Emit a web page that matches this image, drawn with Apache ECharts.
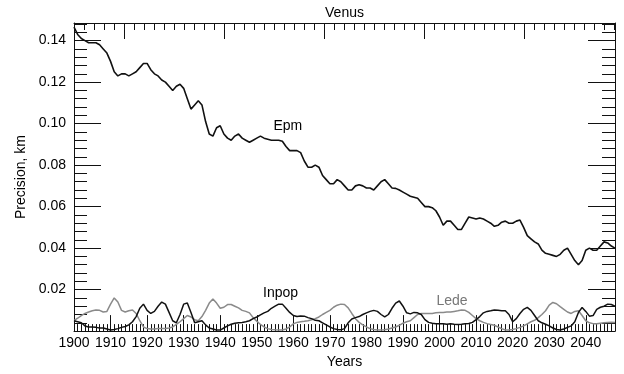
<!DOCTYPE html>
<html><head><meta charset="utf-8">
<script src="https://cdn.jsdelivr.net/npm/echarts@6/dist/echarts.min.js"></script>
<style>html,body{margin:0;padding:0;background:#fff}#c{width:624px;height:374px}</style>
</head><body><div id="c"></div>
<script>
const chartTitle = 'Venus';
const xName = 'Years';
const yName = 'Precision, km';
const seriesNames = ['Epm', 'Inpop', 'Lede'];
const startYear = 1900;
const endYear = 2048;

const epm = [
 0.1465,0.143,0.141,0.140,0.139,0.139,0.139,0.138,0.136,0.134,
 0.130,0.125,0.123,0.124,0.124,0.123,0.124,0.125,0.127,0.129,
 0.129,0.126,0.124,0.123,0.121,0.120,0.118,0.116,0.118,0.119,
 0.117,0.112,0.107,0.109,0.111,0.109,0.101,0.095,0.094,0.098,
 0.099,0.095,0.093,0.092,0.094,0.095,0.093,0.092,0.091,0.092,
 0.093,0.094,0.093,0.0925,0.092,0.092,0.092,0.0915,0.089,0.087,
 0.087,0.087,0.086,0.082,0.079,0.079,0.080,0.079,0.075,0.073,
 0.071,0.071,0.073,0.072,0.070,0.068,0.068,0.070,0.0705,0.070,
 0.069,0.069,0.068,0.070,0.072,0.073,0.071,0.069,0.0688,0.068,
 0.067,0.066,0.065,0.0645,0.064,0.062,0.060,0.060,0.0595,0.058,
 0.055,0.051,0.053,0.053,0.051,0.049,0.049,0.052,0.055,0.0545,
 0.054,0.0545,0.054,0.053,0.052,0.0505,0.051,0.0525,0.053,0.052,
 0.052,0.053,0.0535,0.050,0.046,0.0445,0.043,0.042,0.039,0.0375,
 0.037,0.0365,0.036,0.037,0.039,0.040,0.037,0.034,0.032,0.034,
 0.039,0.040,0.039,0.039,0.041,0.043,0.0425,0.041,0.040
];
const inpop = [
 0.005,0.0045,0.004,0.0025,0.002,0.002,0.0018,0.0015,0.0015,0.001,
 0.0005,0.0008,0.0012,0.0018,0.0022,0.003,0.0045,0.007,0.011,0.013,
 0.010,0.0085,0.0095,0.012,0.014,0.013,0.009,0.005,0.004,0.008,
 0.013,0.0135,0.009,0.004,0.0045,0.005,0.003,0.0015,0.001,0.0005,
 0.0005,0.0015,0.0025,0.0033,0.0038,0.004,0.0042,0.0045,0.005,0.006,
 0.0068,0.0078,0.0088,0.0095,0.011,0.012,0.013,0.013,0.011,0.009,
 0.0075,0.007,0.0073,0.0072,0.0065,0.006,0.0052,0.005,0.004,0.003,
 0.002,0.0012,0.0008,0.0006,0.0012,0.004,0.0058,0.0065,0.007,0.008,
 0.0088,0.0095,0.010,0.0095,0.008,0.0068,0.008,0.011,0.0135,0.0145,
 0.012,0.0088,0.0083,0.009,0.0088,0.008,0.0055,0.0042,0.0038,0.0036,
 0.0035,0.0035,0.0033,0.0035,0.0033,0.0032,0.0033,0.0035,0.0037,0.0042,
 0.0055,0.007,0.0088,0.0095,0.0098,0.0102,0.0100,0.0098,0.0098,0.008,
 0.0045,0.006,0.0085,0.0105,0.0114,0.010,0.0075,0.005,0.004,0.0033,
 0.0025,0.0015,0.0008,0.0005,0.001,0.0018,0.0025,0.0045,0.009,0.0114,
 0.0095,0.0072,0.0075,0.0105,0.0115,0.012,0.013,0.0128,0.012
];
const lede = [
 0.005,0.0062,0.0075,0.0085,0.0092,0.0098,0.0102,0.0100,0.0092,0.0095,
 0.013,0.016,0.014,0.010,0.0092,0.0098,0.0102,0.0085,0.005,0.002,
 0.0012,0.001,0.001,0.0012,0.0012,0.0013,0.0015,0.002,0.0032,0.0045,
 0.006,0.0075,0.0068,0.0055,0.005,0.007,0.0100,0.0135,0.0155,0.0135,
 0.011,0.0115,0.0128,0.0128,0.012,0.0112,0.010,0.0095,0.0088,0.0065,
 0.0048,0.0032,0.002,0.0012,0.0008,0.0006,0.0005,0.0005,0.001,0.002,
 0.0035,0.0042,0.0045,0.0047,0.005,0.0055,0.006,0.0068,0.008,0.009,
 0.010,0.0115,0.0125,0.013,0.0128,0.0112,0.0085,0.006,0.0042,0.003,
 0.002,0.0012,0.0008,0.0005,0.0005,0.0006,0.001,0.0015,0.002,0.0028,
 0.0038,0.0045,0.005,0.0065,0.008,0.0085,0.0085,0.0085,0.0085,0.0088,
 0.009,0.009,0.0092,0.0092,0.0095,0.0098,0.0102,0.0100,0.009,0.0075,
 0.006,0.005,0.0042,0.0036,0.0032,0.0028,0.002,0.0012,0.0005,0.0005,
 0.0008,0.0012,0.0018,0.0025,0.0035,0.0045,0.0052,0.0065,0.008,0.0098,
 0.0125,0.0138,0.0132,0.0118,0.0105,0.0092,0.0085,0.0095,0.0098,0.0075,
 0.005,0.004,0.0036,0.0035,0.0038,0.004,0.0042,0.0043,0.0042
];
const labelAnchors = [[1958.5, 0.0987], [1956.5, 0.0184], [2003.4, 0.0144]];

const xMajorTicks = [1900,1910,1920,1930,1940,1950,1960,1970,1980,1990,2000,2010,2020,2030,2040];
const yMajorTicks = [0.02,0.04,0.06,0.08,0.10,0.12,0.14];
const yMax = 0.1485;
const jdStart = 2415020;
const jdEnd = jdStart + (endYear - startYear) * 365.25;
const jdMajorTicks = [2420000,2430000,2440000,2450000,2460000];

const xMinorTicks = []; for (let y = startYear + 1; y < endYear; y++) xMinorTicks.push(y);
const yMinorTicks = []; for (let k = 1; k * 0.004 < yMax; k++) yMinorTicks.push(+(k * 0.004).toFixed(3));
const jdMinorTicks = []; for (let j = 2416000; j < jdEnd; j += 1000) jdMinorTicks.push(j);

const toPairs = arr => arr.map((v, i) => [startYear + i, v]);

const FONT = 'Liberation Sans';
const tl = () => ({ color: '#111', width: 1 });
const bl = () => ({ color: '#111', width: 1 });
const txt = () => ({ fontFamily: FONT, fontSize: 14, color: '#000' });

function axis(pos, min, max, len, ticks, extra) {
  return Object.assign({
    type: 'value', position: pos, min, max,
    splitLine: { show: false }, minorTick: { show: false },
    axisLine: { show: false, onZero: false },
    axisTick: { show: true, inside: true, length: len, customValues: ticks, lineStyle: tl() },
    axisLabel: { show: false }
  }, extra || {});
}

const xAxes = [
  axis('bottom', startYear, endYear, 16, xMajorTicks, {
    axisLine: { show: true, onZero: false, lineStyle: bl() },
    axisLabel: Object.assign({ show: true, customValues: xMajorTicks, formatter: v => String(v), margin: 5 }, txt()),
    name: xName, nameLocation: 'middle', nameGap: 18, nameTextStyle: txt()
  }),
  axis('bottom', startYear, endYear, 7, xMinorTicks),
  axis('top', jdStart, jdEnd, 16, jdMajorTicks, {
    axisLine: { show: true, onZero: false, lineStyle: bl() },
    name: chartTitle, nameLocation: 'middle', nameGap: 3, nameTextStyle: txt()
  }),
  axis('top', jdStart, jdEnd, 7, jdMinorTicks)
];
const yAxes = [
  axis('left', 0, yMax, 27, yMajorTicks, {
    axisLine: { show: true, onZero: false, lineStyle: bl() },
    axisLabel: Object.assign({ show: true, customValues: yMajorTicks, formatter: v => v.toFixed(2), margin: 8 }, txt()),
    name: yName, nameLocation: 'middle', nameGap: 44, nameTextStyle: txt()
  }),
  axis('left', 0, yMax, 13, yMinorTicks),
  axis('right', 0, yMax, 27, yMajorTicks, {
    axisLine: { show: true, onZero: false, lineStyle: bl() }
  }),
  axis('right', 0, yMax, 13, yMinorTicks)
];

const colors = ['#111', '#111', '#8a8a8a'];
const widths = [1.6, 1.5, 1.5];
const datasets = [epm, inpop, lede];
const series = datasets.map((d, i) => ({
  name: seriesNames[i], type: 'line', xAxisIndex: 0, yAxisIndex: 0,
  data: toPairs(d), showSymbol: false, symbol: 'none', smooth: false,
  lineStyle: { color: colors[i], width: widths[i] }, z: 3 - i,
  markPoint: {
    symbol: 'circle', symbolSize: 0, silent: true,
    label: Object.assign({ show: true, position: 'inside', formatter: seriesNames[i] }, txt(),
      { color: i === 2 ? '#777' : '#000' }),
    data: [{ coord: labelAnchors[i] }]
  }
}));

const chart = echarts.init(document.getElementById('c'), null, { renderer: 'canvas' });
chart.setOption({
  animation: false,
  backgroundColor: '#fff',
  grid: { left: 74, right: 9, top: 23, bottom: 38, containLabel: false },
  xAxis: xAxes, yAxis: yAxes, series
});
</script></body></html>
